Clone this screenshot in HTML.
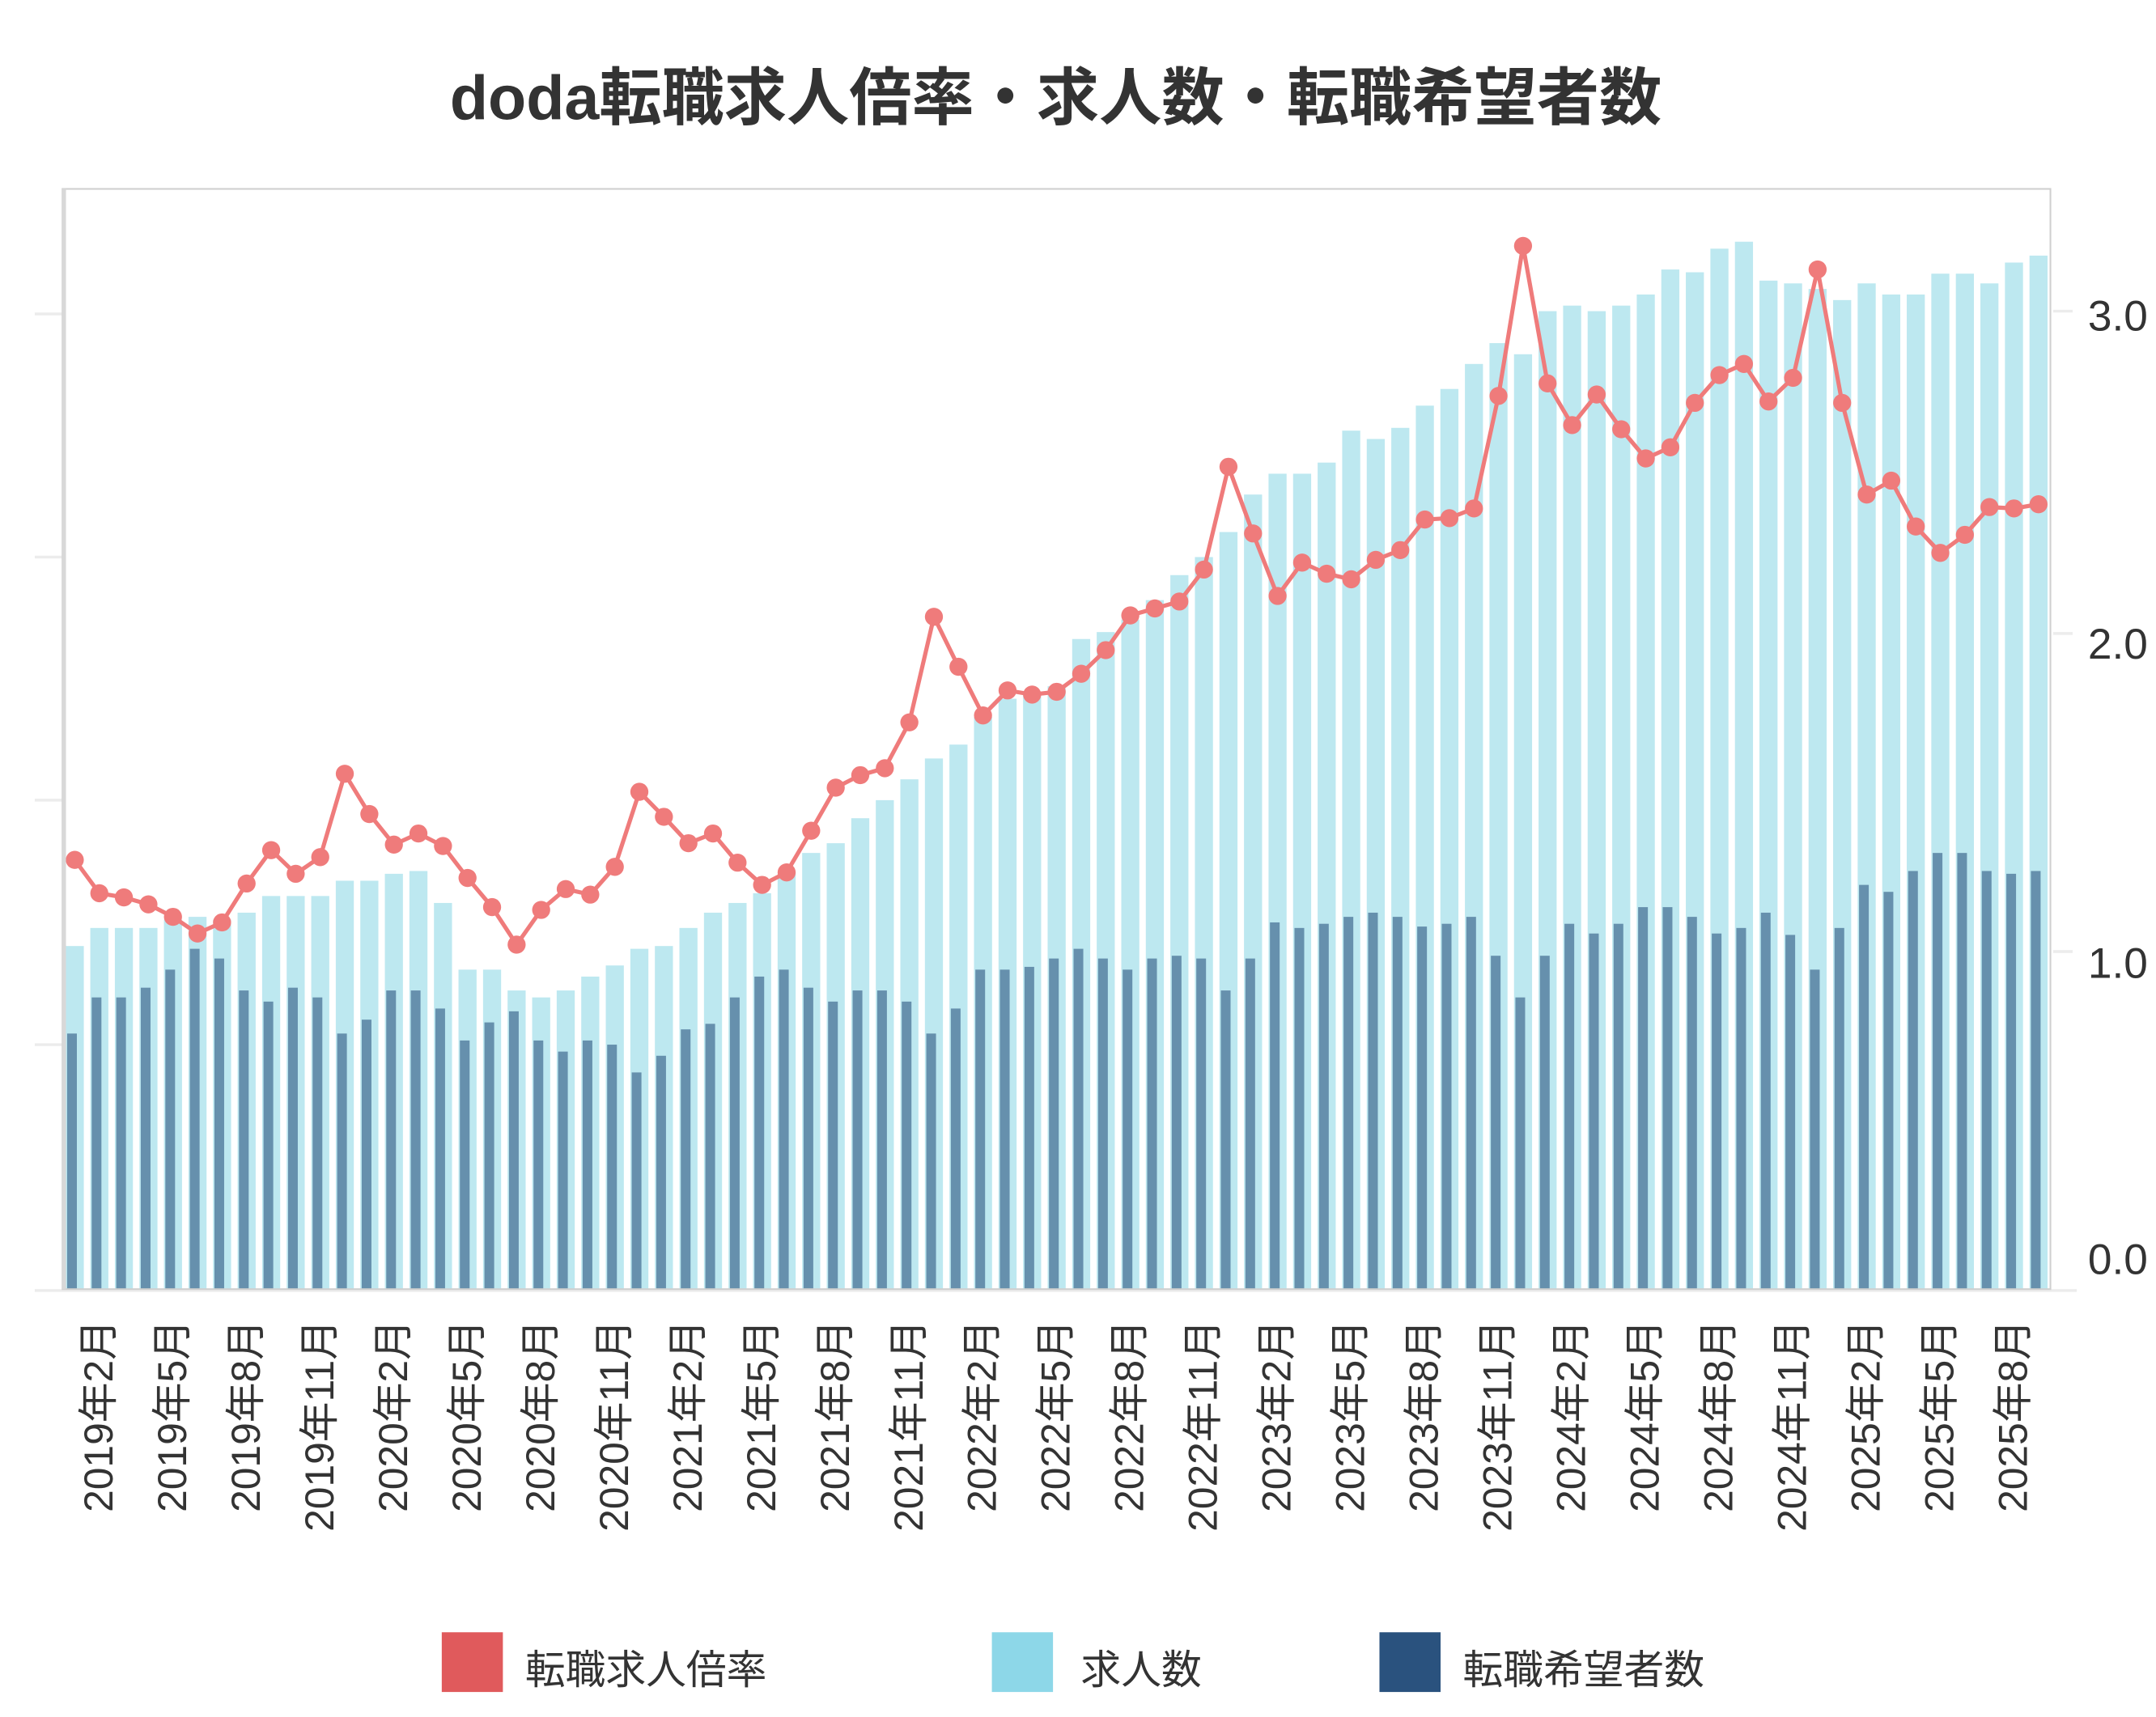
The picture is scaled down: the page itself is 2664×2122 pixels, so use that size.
<!DOCTYPE html>
<html><head><meta charset="utf-8"><style>
html,body{margin:0;padding:0;background:#fff}
svg{display:block}
text{font-family:"Liberation Sans","Noto Sans CJK JP",sans-serif}
</style></head><body>
<svg id="s" width="2664" height="2122" viewBox="0 0 1552 1236" preserveAspectRatio="none" xmlns="http://www.w3.org/2000/svg">
<rect width="1552" height="1236" fill="#fff"/>
<text x="760" y="86" text-anchor="middle" font-size="45" font-weight="bold" fill="#333">doda転職求人倍率・求人数・転職希望者数</text>
<g stroke="#ececec" stroke-width="2">
<line x1="25" y1="226" x2="45" y2="226"/><line x1="25" y1="401" x2="45" y2="401"/><line x1="25" y1="576" x2="45" y2="576"/><line x1="25" y1="752" x2="45" y2="752"/>
<line x1="1478" y1="224" x2="1492" y2="224"/><line x1="1478" y1="456" x2="1492" y2="456"/><line x1="1478" y1="685" x2="1492" y2="685"/>
<line x1="25" y1="929" x2="1495" y2="929"/>
</g>
<g id="bars"></g>
<polyline id="ln" fill="none" stroke="#ef7b7b" stroke-width="3"/>
<g id="pts" fill="#ef7b7b"></g>
<rect x="45" y="136" width="1431" height="792" fill="none" stroke="#cfcfcf" stroke-width="1.2"/>
<line x1="46" y1="136" x2="46" y2="928" stroke="#d8d8d8" stroke-width="3"/>
<g font-size="31" fill="#333">
<text x="1503" y="238">3.0</text><text x="1503" y="474">2.0</text><text x="1503" y="704">1.0</text><text x="1503" y="917">0.0</text>
</g>
<g font-size="29" fill="#333" text-anchor="end">
<text transform="translate(81,950) rotate(-90)">2019年2月</text>
<text transform="translate(134,950) rotate(-90)">2019年5月</text>
<text transform="translate(187,950) rotate(-90)">2019年8月</text>
<text transform="translate(240,950) rotate(-90)">2019年11月</text>
<text transform="translate(293,950) rotate(-90)">2020年2月</text>
<text transform="translate(346,950) rotate(-90)">2020年5月</text>
<text transform="translate(399,950) rotate(-90)">2020年8月</text>
<text transform="translate(452,950) rotate(-90)">2020年11月</text>
<text transform="translate(505,950) rotate(-90)">2021年2月</text>
<text transform="translate(558,950) rotate(-90)">2021年5月</text>
<text transform="translate(611,950) rotate(-90)">2021年8月</text>
<text transform="translate(664,950) rotate(-90)">2021年11月</text>
<text transform="translate(717,950) rotate(-90)">2022年2月</text>
<text transform="translate(770,950) rotate(-90)">2022年5月</text>
<text transform="translate(823,950) rotate(-90)">2022年8月</text>
<text transform="translate(876,950) rotate(-90)">2022年11月</text>
<text transform="translate(929,950) rotate(-90)">2023年2月</text>
<text transform="translate(982,950) rotate(-90)">2023年5月</text>
<text transform="translate(1035,950) rotate(-90)">2023年8月</text>
<text transform="translate(1088,950) rotate(-90)">2023年11月</text>
<text transform="translate(1141,950) rotate(-90)">2024年2月</text>
<text transform="translate(1194,950) rotate(-90)">2024年5月</text>
<text transform="translate(1247,950) rotate(-90)">2024年8月</text>
<text transform="translate(1300,950) rotate(-90)">2024年11月</text>
<text transform="translate(1353,950) rotate(-90)">2025年2月</text>
<text transform="translate(1406,950) rotate(-90)">2025年5月</text>
<text transform="translate(1459,950) rotate(-90)">2025年8月</text>
</g>
<rect x="318" y="1175" width="44" height="43" fill="#e05a5c"/>
<rect x="714" y="1175" width="44" height="43" fill="#8dd7e8"/>
<rect x="993" y="1175" width="44" height="43" fill="#2a527e"/>
<g font-size="29" fill="#333">
<text x="378" y="1212">転職求人倍率</text>
<text x="778" y="1212">求人数</text>
<text x="1053" y="1212">転職希望者数</text>
</g>
</svg>
<script>
var r=[619,643,646,651,660,672,664,636,612,629,617,557,586,608,600,609,632,653,680,655,640,644,624,570,588,607,600,621,637,628,598,567,558,553,520,444,480,515,497,500,498,485,468,443,438,433,410,336,384,429,405,413,417,403,396,374,373,366,285,177,276,306,284,309,330,322,290,270,262,289,272,194,290,356,346,379,398,385,365,366,363];
var L=[681,668,668,668,662,660,662,657,645,645,645,634,634,629,627,650,698,698,713,718,713,703,695,683,681,668,657,650,643,628,614,607,589,576,561,546,536,516,503,499,494,460,455,446,432,414,401,383,356,341,341,333,310,316,308,292,280,262,247,255,224,220,224,220,212,194,196,179,174,202,204,208,216,204,212,212,197,197,204,189,184];
var D=[744,718,718,711,698,683,690,713,721,711,718,744,734,713,713,726,749,736,728,749,757,749,752,772,760,741,737,718,703,698,711,721,713,713,721,744,726,698,698,696,690,683,690,698,690,688,690,713,690,664,668,665,660,657,660,667,665,660,688,718,688,665,672,665,653,653,660,672,668,657,673,698,668,637,642,627,614,614,627,629,627];
var ns="http://www.w3.org/2000/svg",g=document.getElementById('bars'),p=document.getElementById('pts'),pl=[];
function R(x,y,w,h,f){var e=document.createElementNS(ns,'rect');e.setAttribute('x',x);e.setAttribute('y',y);e.setAttribute('width',w);e.setAttribute('height',h);e.setAttribute('fill',f);g.appendChild(e);}
for(var i=0;i<81;i++){var cx=45+17.67*(i+0.5);
R(cx-6.5,L[i],13,928-L[i],'#bde8f0');R(cx-5.5,D[i],7,928-D[i],'#6690ad');
var c=document.createElementNS(ns,'circle');c.setAttribute('cx',cx);c.setAttribute('cy',r[i]);c.setAttribute('r',6.5);p.appendChild(c);pl.push(cx+','+r[i]);}
document.getElementById('ln').setAttribute('points',pl.join(' '));
</script>
</body></html>
